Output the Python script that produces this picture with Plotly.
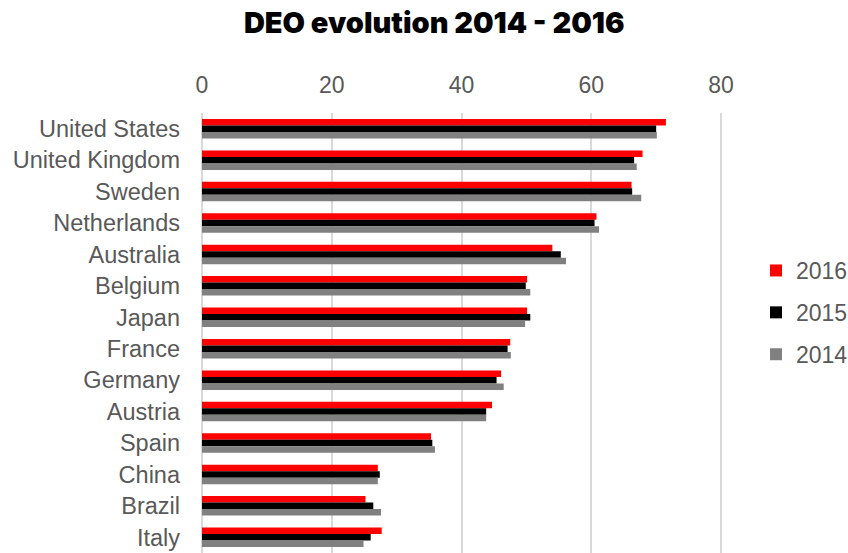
import plotly.graph_objects as go

# DEO scores per country, three survey years
countries = ["United States", "United Kingdom", "Sweden", "Netherlands", "Australia",
             "Belgium", "Japan", "France", "Germany", "Austria", "Spain", "China",
             "Brazil", "Italy"]
deo_2016 = [71.5, 67.9, 66.2, 60.8, 54.0, 50.1, 50.1, 47.5, 46.1, 44.7, 35.3, 27.1, 25.2, 27.7]
deo_2015 = [70.0, 66.6, 66.3, 60.5, 55.3, 49.9, 50.6, 47.1, 45.4, 43.8, 35.5, 27.4, 26.4, 26.0]
deo_2014 = [70.1, 67.0, 67.7, 61.2, 56.1, 50.6, 49.8, 47.6, 46.5, 43.8, 35.9, 27.1, 27.6, 24.9]

series = [("2016", deo_2016, "#ff0000"),
          ("2015", deo_2015, "#000000"),
          ("2014", deo_2014, "#808080")]

axis_font = dict(family="Liberation Sans, Arial, sans-serif", size=23, color="#595959")
cat_font = dict(family="Liberation Sans, Arial, sans-serif", size=23.5, color="#595959")

fig = go.Figure()
for i, (name, vals, color) in enumerate(series):
    fig.add_trace(go.Bar(
        name=name, x=vals, y=countries, orientation="h",
        marker=dict(color=color, line=dict(width=0)),
        legendgroup=f"g{i}",
    ))

fig.update_layout(
    width=848, height=553,
    margin=dict(l=202, r=125, t=113, b=0),
    paper_bgcolor="white", plot_bgcolor="white",
    barmode="group", bargap=0.38, bargroupgap=0,
    title=dict(text="DEO evolution 2014 - 2016", x=0.512, xanchor="center",
               y=1 - 23 / 553, yanchor="middle",
               font=dict(family="Inter, sans-serif", size=29, color="#000000", weight=900)),
    xaxis=dict(side="top", range=[0, 80.3], tickvals=[0, 20, 40, 60, 80], showgrid=True,
               gridcolor="#d9d9d9", gridwidth=2, zeroline=True, zerolinecolor="#d9d9d9",
               zerolinewidth=2, showline=False, tickfont=axis_font, ticklabelstandoff=14,
               fixedrange=True),
    yaxis=dict(autorange="reversed", showgrid=False, showline=False,
               tickfont=cat_font, ticklabelstandoff=21, fixedrange=True),
    legend=dict(xref="container", yref="container", x=756 / 848, xanchor="left",
                y=1 - 249 / 553, yanchor="top",
                font=axis_font, tracegroupgap=9, itemwidth=30,
                bgcolor="rgba(0,0,0,0)"),
    showlegend=True,
)

fig.write_html("out.html")
